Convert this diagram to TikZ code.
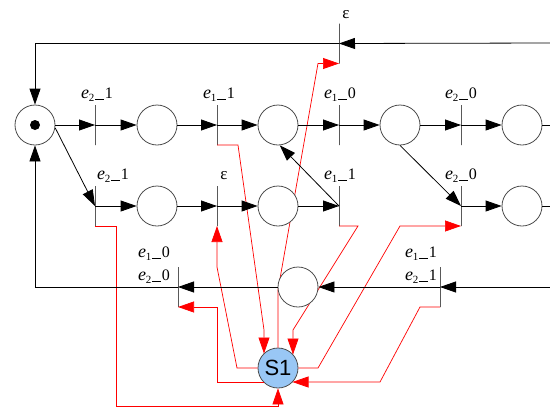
\documentclass[tikz,border=0pt]{standalone}
\usepackage{fontspec}
\setmainfont{Liberation Serif}
\newfontfamily\sfarial{Liberation Sans}
\usetikzlibrary{arrows.meta}
\newcommand{\elab}[2]{{\fontsize{18}{18}\selectfont\textit{e}}\raisebox{-3pt}{\fontsize{11}{11}\selectfont #1}\hspace{0.5pt}\rule[-1.2pt]{9pt}{0.6pt}\hspace{1pt}{\fontsize{16}{16}\selectfont #2}}
\newcommand{\eps}{{\fontsize{17}{17}\selectfont ε}}
\begin{document}
\begin{tikzpicture}[x=1pt,y=-1pt,
  arr/.style={-{Triangle[length=16pt,width=11pt]}},
  blk/.style={black,line width=0.8pt},
  rd/.style={red,line width=0.7pt},
  place/.style={circle,draw=black!70,line width=0.8pt,minimum size=40pt,inner sep=0pt,fill=white},
  trans/.style={draw=black,line width=0.8pt,minimum width=0pt,minimum height=40pt,inner sep=0pt,outer sep=0pt},
  lab/.style={anchor=base,inner sep=0pt}]
\useasboundingbox (0,0) rectangle (550,408);
\clip (0,0) rectangle (550,408);
% S1 and transitions
\node[circle,draw=black!70,line width=0.8pt,fill={rgb,255:red,153;green,199;blue,245},minimum size=40pt,inner sep=0pt,font=\sfarial\fontsize{22}{22}\selectfont] (s1) at (278,368) {S1};
\node[trans] (t0) at (339,43.5) {};
\node[trans] (t11) at (95,125) {};
\node[trans] (t12) at (217,125) {};
\node[trans] (t13) at (339,125) {};
\node[trans] (t14) at (461,125) {};
\node[trans] (t21) at (95,206) {};
\node[trans] (t22) at (217,206) {};
\node[trans] (t23) at (339,206) {};
\node[trans] (t24) at (461,206) {};
\node[trans] (t31) at (178,287) {};
\node[trans] (t32) at (440,287) {};
% red arcs (drawn beneath the places)
\begin{scope}[rd]
\draw[arr] (t12.south) -- (238,145) -- (264,330) -- (264,353.5);
\draw[arr] (t23.south) -- (358,226) -- (293,330) -- (293,354.5);
\draw[arr] (s1.east) -- (318,368) -- (400,226) -- (t24.south);
\draw[arr] (t32.south) -- (420,307) -- (380,382) -- (292.5,382);
\draw[arr] (s1.north) -- (278,290) -- (318,63.5) -- (t0.south);
\draw[arr] (s1.west) -- (237,368) -- (217,267) -- (t22.south);
\draw[arr] (263.5,382) -- (217,382) -- (217,307) -- (t31.south);
\draw[arr] (t21.south) -- (116,226) -- (116,406.5) -- (278,406.5) -- (s1.south);
\end{scope}
% places
\node[place] (start) at (35,125) {};
\fill (start.center) circle (5pt);
\node[place] (p11) at (157,125) {};
\node[place] (p12) at (278,125) {};
\node[place] (p13) at (400,125) {};
\node[place] (p14) at (522,125) {};
\node[place] (p21) at (157,206) {};
\node[place] (p22) at (278,206) {};
\node[place] (p24) at (522,206) {};
\node[place] (p3) at (298,287) {};
% edge coordinates
\coordinate (e0) at (552,43);
\coordinate (e14) at (552,125);
\coordinate (e24) at (552,206);
\coordinate (e3) at (552,287);
% black arcs
\begin{scope}[blk]
\draw[arr] (e0) -- (t0.center);
\draw[arr] (t0.center) -| (start.north);
\draw[arr] (start.east) -- (t11.center);
\draw[arr] (t11.center) -- (p11.west);
\draw[arr] (p11.east) -- (t12.center);
\draw[arr] (t12.center) -- (p12.west);
\draw[arr] (p12.east) -- (t13.center);
\draw[arr] (t13.center) -- (p13.west);
\draw[arr] (p13.east) -- (t14.center);
\draw[arr] (t14.center) -- (p14.west);
\draw (p14.east) -- (e14);
\draw[arr] (start.-8) -- (t21.center);
\draw[arr] (t21.center) -- (p21.west);
\draw[arr] (p21.east) -- (t22.center);
\draw[arr] (t22.center) -- (p22.west);
\draw[arr] (p22.east) -- (t23.center);
\draw[arr] (t23.center) -- (p12.-85);
\draw[arr] (p13.south) -- (t24.center);
\draw[arr] (t24.center) -- (p24.west);
\draw (p24.east) -- (e24);
\draw[arr] (e3) -- (t32.center);
\draw[arr] (t32.center) -- (p3.east);
\draw[arr] (p3.west) -- (t31.center);
\draw[arr] (t31.center) -| (start.south);
\end{scope}
% labels
\node[lab] (l11) at (97,98) {\elab{2}{1}};
\node[lab] (l12) at (219,98) {\elab{1}{1}};
\node[lab] (l13) at (340,98) {\elab{1}{0}};
\node[lab] (l14) at (461,98) {\elab{2}{0}};
\node[lab] (l21) at (113,179) {\elab{2}{1}};
\node[lab] (l22) at (224,179) {\eps};
\node[lab] (l23) at (340,179) {\elab{1}{1}};
\node[lab] (l24) at (461,179) {\elab{2}{0}};
\node[lab] (l0) at (346,18) {\eps};
\node[lab] (l31a) at (154,257) {\elab{1}{0}};
\node[lab] (l31b) at (154,280) {\elab{2}{0}};
\node[lab] (l32a) at (421,257) {\elab{1}{1}};
\node[lab] (l32b) at (421,280) {\elab{2}{1}};
\end{tikzpicture}
\end{document}
